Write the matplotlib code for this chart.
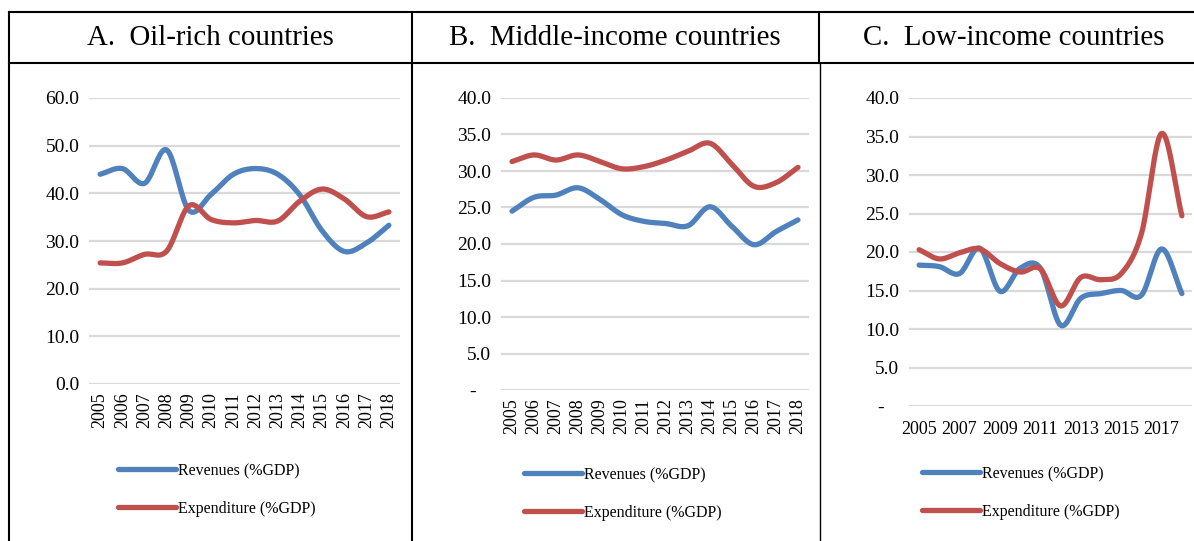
import numpy as np
import matplotlib
matplotlib.use("Agg")
import matplotlib.pyplot as plt
from matplotlib.lines import Line2D

plt.rcParams['font.family'] = ['Liberation Serif', 'DejaVu Serif']

years = [2005, 2006, 2007, 2008, 2009, 2010, 2011, 2012, 2013, 2014, 2015, 2016, 2017, 2018]

# Panel A: Oil-rich countries
oil_rev = [44.0, 45.2, 42.1, 49.1, 36.4, 39.8, 44.0, 45.2, 44.0, 39.6, 32.1, 27.8, 29.6, 33.3]
oil_exp = [25.4, 25.4, 27.2, 27.9, 37.4, 34.5, 33.8, 34.3, 34.2, 38.4, 40.9, 38.8, 35.1, 36.1]

# Panel B: Middle-income countries
mid_rev = [24.5, 26.4, 26.7, 27.7, 26.1, 24.0, 23.1, 22.8, 22.5, 25.1, 22.4, 19.9, 21.7, 23.3]
mid_exp = [31.3, 32.2, 31.5, 32.2, 31.3, 30.3, 30.6, 31.5, 32.7, 33.8, 30.9, 27.9, 28.4, 30.5]

# Panel C: Low-income countries
low_rev = [18.3, 18.1, 17.2, 20.5, 14.9, 17.9, 17.9, 10.5, 14.0, 14.6, 15.0, 14.4, 20.4, 14.6]
low_exp = [20.3, 19.1, 19.9, 20.4, 18.5, 17.4, 17.8, 13.0, 16.7, 16.4, 17.2, 22.4, 35.4, 24.7]

titles = ["A.  Oil-rich countries", "B.  Middle-income countries", "C.  Low-income countries"]
rev_label = "Revenues (%GDP)"
exp_label = "Expenditure (%GDP)"

BLUE = "#4f81bd"
RED = "#c0504d"
GRID = "#d9d9d9"

W, H = 1194, 541
fig = plt.figure(figsize=(W / 100, H / 100), dpi=100)


def fx(px):
    return px / W


def fy(py):
    return 1 - py / H


def smooth(y, n=20):
    """Catmull-Rom smoothing through the data points (like Excel smoothed lines)."""
    y = np.asarray(y, float)
    x = np.arange(len(y), dtype=float)
    P = np.concatenate([[2 * y[0] - y[1]], y, [2 * y[-1] - y[-2]]])
    X = np.concatenate([[x[0] - 1], x, [x[-1] + 1]])
    xs, ys = [], []
    for i in range(1, len(P) - 2):
        t = np.linspace(0, 1, n, endpoint=(i == len(P) - 3))
        for arr, out in ((X, xs), (P, ys)):
            p0, p1, p2, p3 = arr[i - 1], arr[i], arr[i + 1], arr[i + 2]
            out.append(0.5 * ((2 * p1) + (-p0 + p2) * t + (2 * p0 - 5 * p1 + 4 * p2 - p3) * t ** 2
                              + (-p0 + 3 * p1 - 3 * p2 + p3) * t ** 3))
    return np.concatenate(xs), np.concatenate(ys)


panels = [
    dict(rev=oil_rev, exp=oil_exp, box=(89, 400, 98, 384), ymax=60, step=10, zero="0.0",
         rot=True, title_x=210, leg=(118, 463)),
    dict(rev=mid_rev, exp=mid_exp, box=(501, 809, 98, 390), ymax=40, step=5, zero="-   ",
         rot=True, title_x=615, leg=(524, 467)),
    dict(rev=low_rev, exp=low_exp, box=(909, 1192, 98, 406), ymax=40, step=5, zero="-   ",
         rot=False, title_x=1014, leg=(922, 466)),
]

for i, p in enumerate(panels):
    l, r, t, b = p["box"]
    ax = fig.add_axes([fx(l), fy(b), fx(r - l), fy(t) - fy(b)])
    x = np.arange(len(years))
    sx, sy = smooth(p["rev"])
    ax.plot(sx, sy, color=BLUE, lw=3.8, solid_capstyle='round', label=rev_label, zorder=3)
    sx, sy = smooth(p["exp"])
    ax.plot(sx, sy, color=RED, lw=3.8, solid_capstyle='round', label=exp_label, zorder=3)
    ax.set_xlim(-0.5, len(years) - 0.5)
    ax.set_ylim(0, p["ymax"])
    yt = np.arange(0, p["ymax"] + 0.01, p["step"])
    ax.set_yticks(yt)
    ax.set_yticklabels([p["zero"] if v == 0 else f"{v:.1f}" for v in yt], fontsize=14)
    ax.yaxis.grid(True, color=GRID, lw=1.6)
    ax.set_axisbelow(True)
    for s in ax.spines.values():
        s.set_visible(False)
    ax.tick_params(axis='both', length=0, pad=6)
    ax.tick_params(axis='y', pad=7)
    if p["rot"]:
        ax.set_xticks(x)
        ax.set_xticklabels([str(v) for v in years], rotation=90, fontsize=13, va='top')
    else:
        ax.set_xticks(x[::2])
        ax.set_xticklabels([str(v) for v in years[::2]], fontsize=13)
        ax.tick_params(axis='x', pad=11)
    lx, ly = p["leg"]
    ax.legend(loc='upper left', bbox_to_anchor=(fx(lx), fy(ly)), bbox_transform=fig.transFigure,
              frameon=False, fontsize=11.5, handlelength=3.6, handletextpad=0.15,
              labelspacing=1.35, borderpad=0, borderaxespad=0)
    fig.text(fx(p["title_x"]), fy(38), titles[i], ha='center', va='center', fontsize=20.8)

# Table borders
lw_thick = 1.5
fig.add_artist(Line2D([fx(8.5), 1], [fy(12), fy(12)], color='black', lw=lw_thick))
fig.add_artist(Line2D([fx(8.5), 1], [fy(63), fy(63)], color='black', lw=lw_thick))
fig.add_artist(Line2D([fx(8.5), fx(8.5)], [0, fy(12)], color='black', lw=lw_thick))
fig.add_artist(Line2D([fx(412), fx(412)], [0, fy(12)], color='black', lw=lw_thick))
fig.add_artist(Line2D([fx(819), fx(819)], [fy(63), fy(12)], color='black', lw=lw_thick))
fig.add_artist(Line2D([fx(819.5), fx(819.5)], [0, fy(63)], color='black', lw=1.0))

fig.savefig("out.png", dpi=100)
